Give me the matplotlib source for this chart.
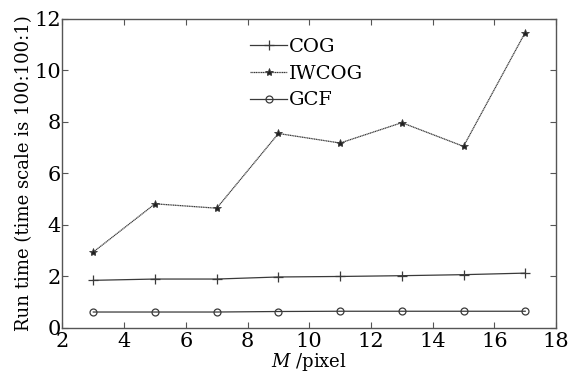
import matplotlib
matplotlib.use("Agg")
import matplotlib.pyplot as plt

M = [3, 5, 7, 9, 11, 13, 15, 17]
cog = [1.85, 1.90, 1.90, 1.98, 2.00, 2.03, 2.07, 2.13]
iwcog = [2.95, 4.82, 4.65, 7.55, 7.18, 7.97, 7.05, 11.47]
gcf = [0.62, 0.62, 0.62, 0.64, 0.65, 0.65, 0.65, 0.65]

plt.rcParams['font.family'] = ['DejaVu Serif']
plt.rcParams['mathtext.fontset'] = 'dejavuserif'

fig = plt.figure(figsize=(5.68, 3.77), dpi=100)
ax = fig.add_axes([0.110, 0.130, 0.869, 0.820])

lc = '#3a3a3a'
ax.plot(M, cog, color=lc, lw=0.9, marker='+', ms=7, mew=0.9, label='COG')
ax.plot(M, iwcog, color=lc, lw=0.9, ls=(0, (1, 0.4)), marker='*', ms=6,
        mew=0.6, mfc='#222222', label='IWCOG')
ax.plot(M, gcf, color=lc, lw=0.9, marker='o', ms=5, mfc='none', mew=0.9,
        label='GCF')

ax.set_xlim(2, 18)
ax.set_ylim(0, 12)
ax.set_xticks(range(2, 19, 2))
ax.set_yticks(range(0, 13, 2))
ax.tick_params(direction='in', top=True, right=True, labelsize=15,
               length=4, color='#555555')
ax.tick_params(axis='x', pad=3)
ax.tick_params(axis='y', pad=1)
for s in ax.spines.values():
    s.set_color('#555555')
    s.set_linewidth(1.0)

ax.set_xlabel(r'$M$ /pixel', fontsize=13, labelpad=0)
ax.set_ylabel('Run time (time scale is 100:100:1)', fontsize=13, labelpad=1)

ax.legend(loc='upper left', bbox_to_anchor=(0.345, 0.995), frameon=False,
          fontsize=14, handlelength=1.9, handletextpad=0.1, labelspacing=0.45)

fig.savefig('out.png', dpi=100)
